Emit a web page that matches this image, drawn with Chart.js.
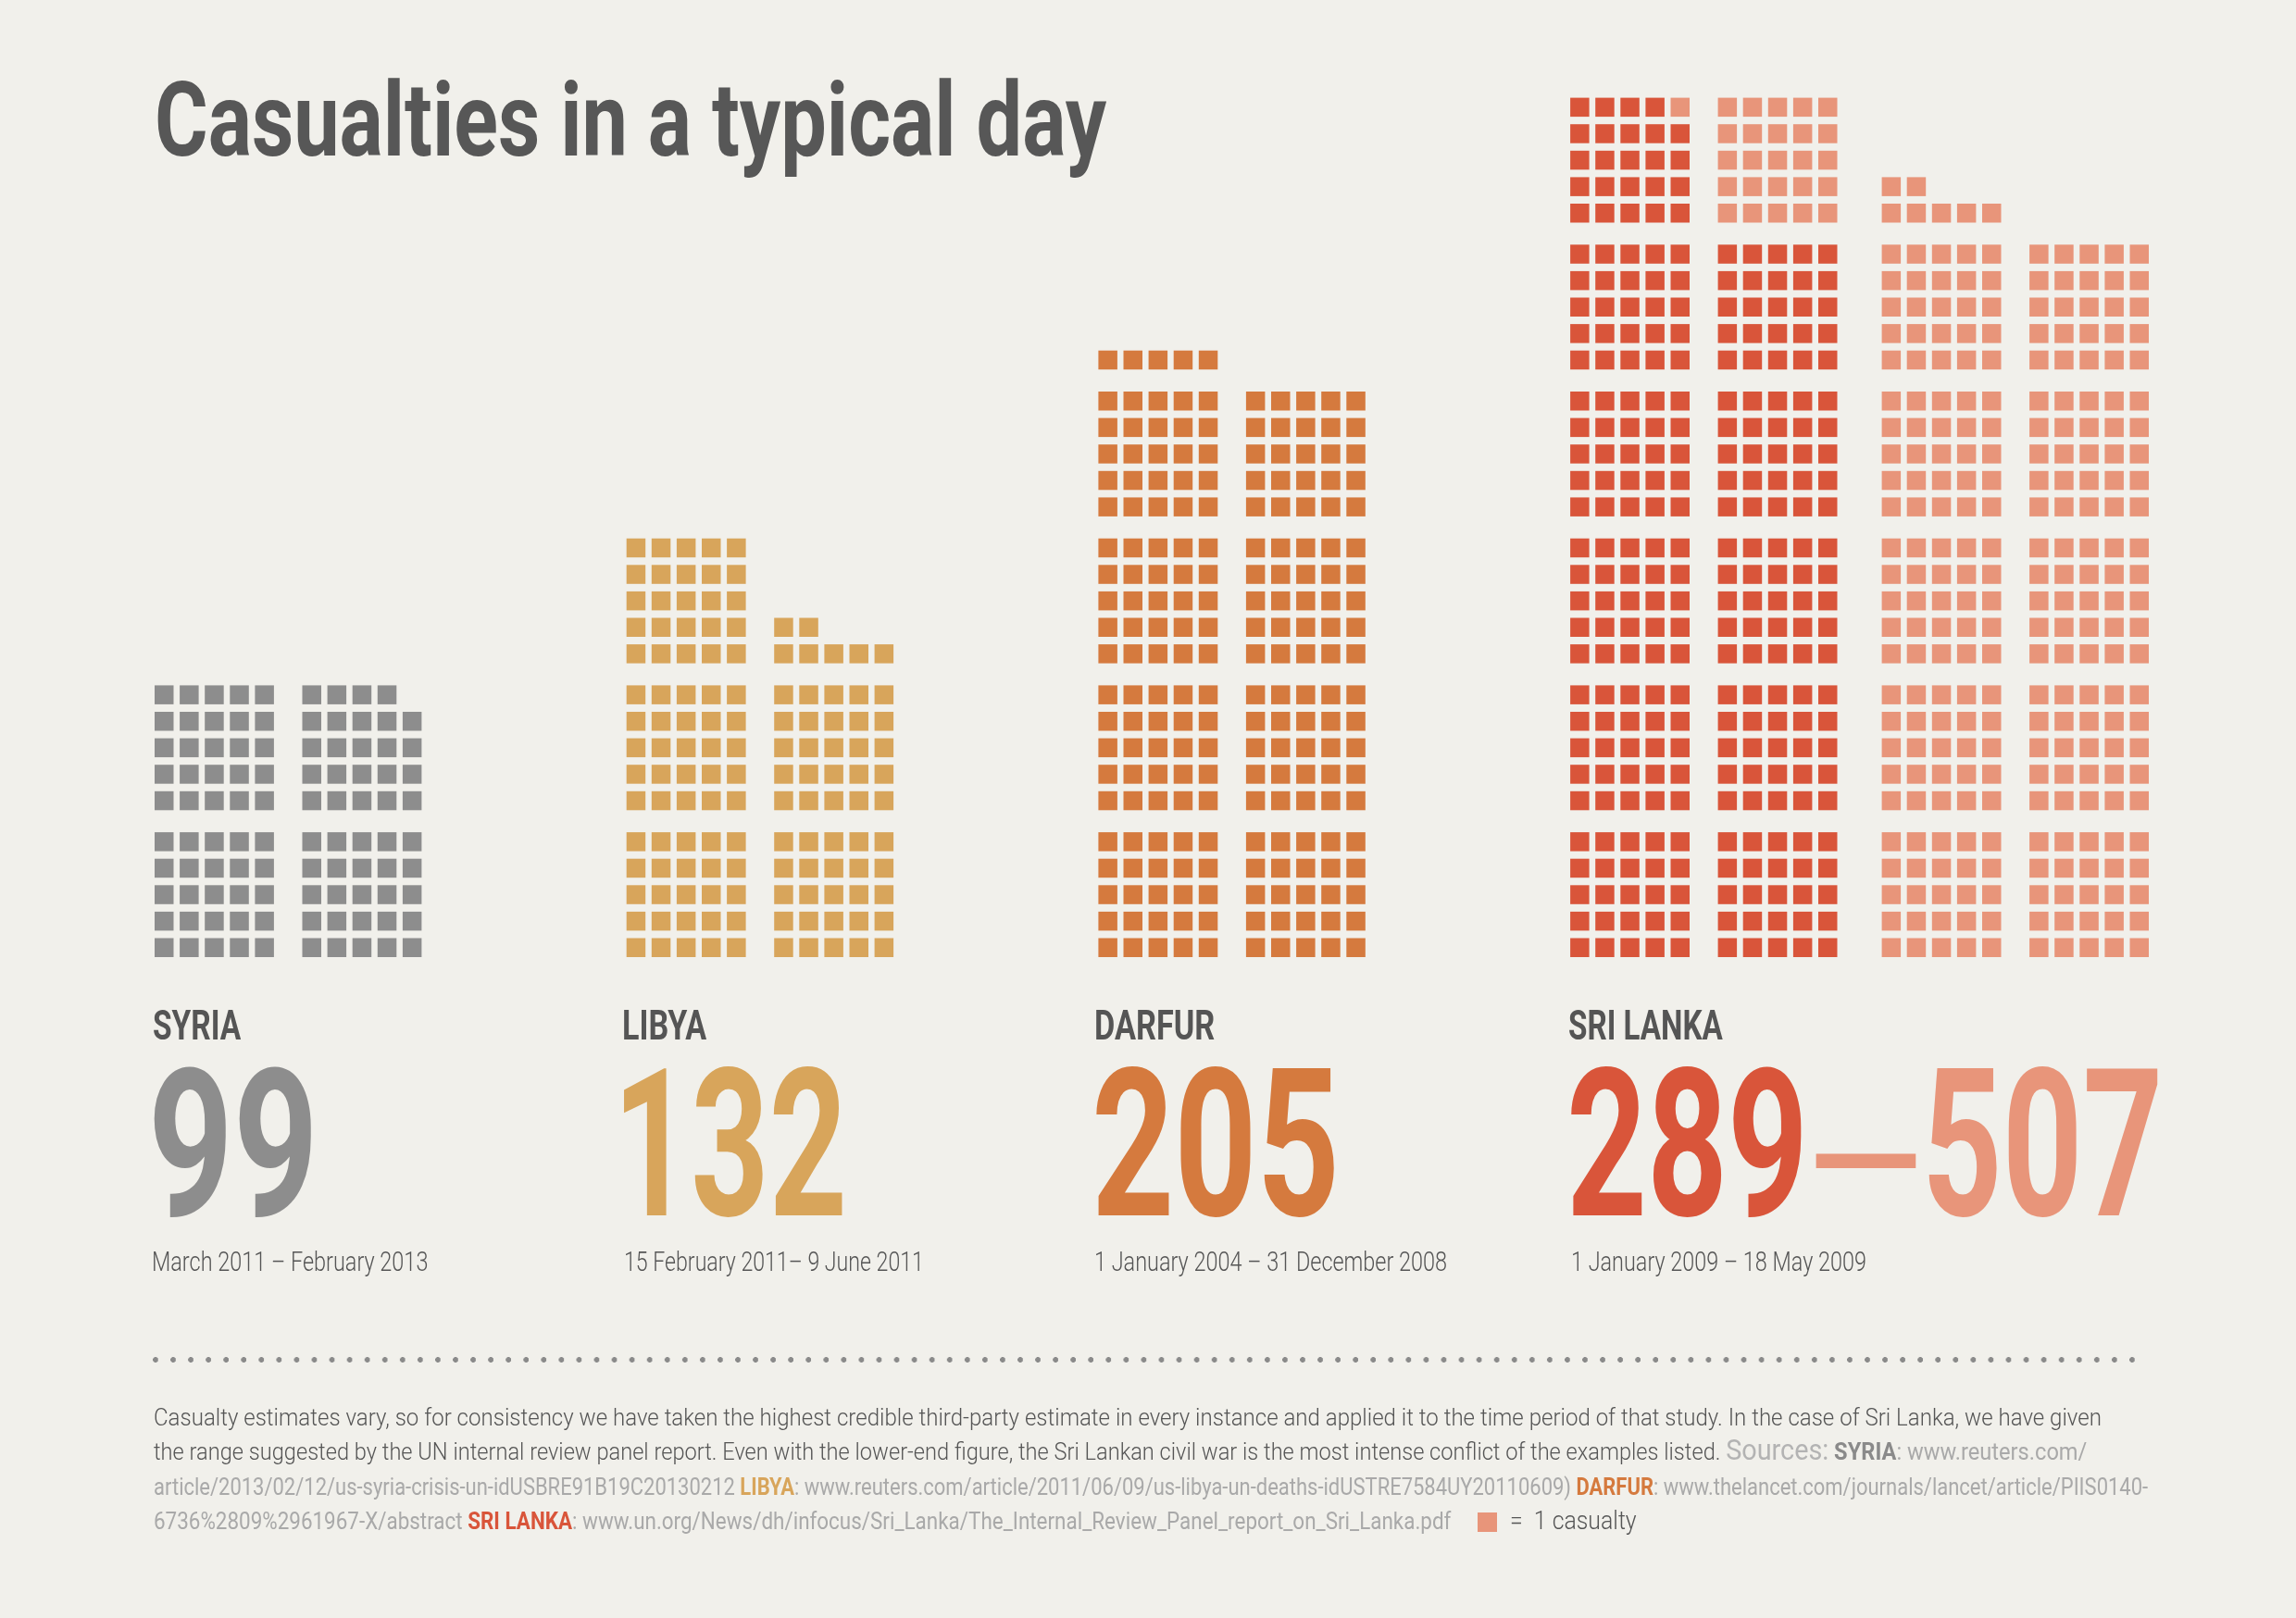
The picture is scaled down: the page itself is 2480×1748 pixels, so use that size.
<!DOCTYPE html>
<html>
<head>
<meta charset="utf-8">
<script src="https://cdn.jsdelivr.net/npm/chart.js@4.4.1/dist/chart.umd.min.js"></script>
<style>
html,body{margin:0;padding:0;background:#f1f0eb;}
body{width:2480px;height:1748px;position:relative;overflow:hidden;}
#c{position:absolute;left:0;top:0;width:2480px;height:1748px;}
.t{position:absolute;white-space:nowrap;transform-origin:0 0;line-height:1.2;}
.dots{position:absolute;left:164.5px;top:1466px;width:2142px;height:6px;
  background-image:radial-gradient(circle at 3px 3px,#8a8a8a 2.6px,rgba(138,138,138,0) 3.2px);
  background-size:19.07px 6px;background-repeat:repeat-x;}
.url{color:#a9a9a9;font-weight:400;}
.src{color:#b3b3b3;font-size:1.22em;font-weight:400;}
.cap{font-weight:700;}
</style>
</head>
<body>
<canvas id="c" width="2480" height="1748"></canvas>
<div class="dots"></div>
<script>
// ================= DATA =================
const countries = ["SYRIA", "LIBYA", "DARFUR", "SRI LANKA"];
const periods = [
  "March 2011 \u2013 February 2013",
  "15 February 2011\u2013 9 June 2011",
  "1 January 2004 \u2013 31 December 2008",
  "1 January 2009 \u2013 18 May 2009"
];
const lowEstimates = [99, 132, 205, 289];
const highEstimates = [null, null, null, 507];

// Block-columns of squares (1 square = 1 casualty), as drawn in the picture
const columnCountry = [0, 0, 1, 1, 2, 2, 3, 3, 3, 3];
const columnSlot    = [0, 1, 0, 1, 0, 1, 0, 1, 2, 3];
const baseSquares   = [50, 49, 75, 57, 105, 100, 149, 125, 0, 0];
const extraSquares  = [0, 0, 0, 0, 0, 0, 1, 25, 132, 125];

// ================= STYLE / LAYOUT =================
const countryColors = ["#8d8d8d", "#d8a55b", "#d57a3e", "#d9553a"];
const extraColor = "#e8957a";

const W = 2480, H = 1748;
const PX_PER_COL = 27.1, PX_PER_ROW = 28.6;
const ORIGIN_X = 177.25, ORIGIN_Y = 1023.75;
const COUNTRY_STEP = 509.7 / PX_PER_COL;
const SLOT_STEP = 159.5 / PX_PER_COL;
const RANGE_SPLIT = 17.5 / PX_PER_COL;
const ROWS_PER_BLOCK = 5, COLS_PER_BLOCK = 5;
const BLOCK_GAP = 15.7 / PX_PER_ROW;
const SQUARE_PX = 20.5;

// ================= DATASETS =================
const baseSets = countries.map((c, k) => ({label: c, data: [], backgroundColor: countryColors[k]}));
const extraSets = countries.map((c, k) => ({label: c + " upper", data: [], backgroundColor: extraColor}));
columnCountry.forEach((k, ci) => {
  const slot = columnSlot[ci];
  const x0 = k * COUNTRY_STEP + slot * SLOT_STEP + (slot >= 2 ? RANGE_SPLIT : 0);
  const total = baseSquares[ci] + extraSquares[ci];
  for (let i = 0; i < total; i++) {
    const row = Math.floor(i / COLS_PER_BLOCK);
    const col = i % COLS_PER_BLOCK;
    const pt = {x: x0 + col, y: row + Math.floor(row / ROWS_PER_BLOCK) * BLOCK_GAP};
    (i < baseSquares[ci] ? baseSets[k] : extraSets[k]).data.push(pt);
  }
});
const datasets = baseSets.concat(extraSets).filter(d => d.data.length).map(d => Object.assign(d, {
  pointStyle: 'rect', pointRadius: SQUARE_PX / Math.SQRT2, borderWidth: 0,
  pointHoverRadius: SQUARE_PX / Math.SQRT2
}));

new Chart(document.getElementById('c'), {
  type: 'scatter',
  data: {datasets},
  options: {
    responsive: false, animation: false, events: [],
    layout: {padding: 0, autoPadding: false},
    plugins: {legend: {display: false}, tooltip: {enabled: false}, title: {display: false}},
    scales: {
      x: {type: 'linear', display: false, min: -ORIGIN_X / PX_PER_COL, max: (W - ORIGIN_X) / PX_PER_COL},
      y: {type: 'linear', display: false, min: -(H - ORIGIN_Y) / PX_PER_ROW, max: ORIGIN_Y / PX_PER_ROW}
    }
  }
});

// ================= TEXT =================
const FONT = 'Roboto, "Liberation Sans", "DejaVu Sans", sans-serif';
const mctx = document.createElement('canvas').getContext('2d');

function placeText(html, o) {
  const d = document.createElement('div');
  d.className = 't';
  d.innerHTML = html + '<span style="display:inline-block;width:0;height:0;"></span>';
  d.style.left = (o.left || 0) + 'px';
  d.style.top = '0px';
  d.style.fontFamily = o.font;
  d.style.fontSize = o.size + 'px';
  d.style.fontWeight = o.weight || 400;
  d.style.color = o.color;
  document.body.appendChild(d);
  const base = d.lastChild.offsetTop;
  d.style.top = (o.baseline - base) + 'px';
  d._base = base;
  if (o.width) {
    const w = d.offsetWidth;
    d.style.transform = 'scaleX(' + (o.width / w) + ')';
  }
  return d;
}

// fit a single-style text so its ink spans x0..x1 and its cap height spans capTop..baseline
function fitText(text, o) {
  const w = o.weight || 400;
  mctx.font = w + ' 100px ' + o.font;
  const capH = mctx.measureText('H').actualBoundingBoxAscent;
  const size = (o.baseline - o.capTop) / capH * 100;
  mctx.font = w + ' ' + size + 'px ' + o.font;
  const m = mctx.measureText(text);
  const inkL = -m.actualBoundingBoxLeft, inkR = m.actualBoundingBoxRight;
  const s = (o.x1 - o.x0) / (inkR - inkL);
  const d = placeText(text, {baseline: o.baseline, font: o.font, weight: w, size: size, color: o.color});
  d.style.left = (o.x0 - inkL * s) + 'px';
  d.style.transform = 'scaleX(' + s + ')';
  return d;
}

// dash: fit ink box exactly
function fitDash(text, o) {
  const w = o.weight || 400;
  mctx.font = w + ' ' + o.size + 'px ' + o.font;
  const m = mctx.measureText(text);
  const inkL = -m.actualBoundingBoxLeft, inkR = m.actualBoundingBoxRight;
  const a = m.actualBoundingBoxAscent, b = -m.actualBoundingBoxDescent;
  const sx = (o.x1 - o.x0) / (inkR - inkL);
  const sy = (o.y1 - o.y0) / (a - b);
  const baseline = o.y1 + b * sy;
  const d = placeText(text, {baseline: baseline, font: o.font, weight: w, size: o.size, color: o.color});
  d.style.left = (o.x0 - inkL * sx) + 'px';
  d.style.transformOrigin = '0 ' + d._base + 'px';
  d.style.transform = 'scale(' + sx + ',' + sy + ')';
  return d;
}

fitText("Casualties in a typical day", {x0: 170, x1: 1195, capTop: 88, baseline: 168, font: FONT, weight: 700, color: "#575757"});

const labelX = [[166, 261], [674, 764], [1184, 1312], [1695, 1861.5]];
const numX = [[166, 335.5], [674, 910], [1184, 1441], [1697, 1946]];
const dateX = [[166, 461.5], [676, 994], [1184, 1563], [1699, 2015]];

countries.forEach((c, k) => {
  fitText(c, {x0: labelX[k][0], x1: labelX[k][1], capTop: 1090.7, baseline: 1123.3, font: FONT, weight: 700, color: "#555555"});
  fitText(String(lowEstimates[k]), {x0: numX[k][0], x1: numX[k][1], capTop: 1152, baseline: 1312.5, font: FONT, weight: 700, color: countryColors[k]});
  if (highEstimates[k] != null) {
    fitDash("\u2013", {x0: 1961, x1: 2070, y0: 1246, y1: 1262, size: 226, font: FONT, weight: 700, color: extraColor});
    fitText(String(highEstimates[k]), {x0: 2083, x1: 2330, capTop: 1152, baseline: 1312.5, font: FONT, weight: 700, color: extraColor});
  }
  fitText(periods[k], {x0: dateX[k][0], x1: dateX[k][1], capTop: 1351.6, baseline: 1373, font: FONT, weight: 300, color: "#555555"});
});

mctx.font = '400 100px ' + FONT;
const fnSize = 18.3 / mctx.measureText('H').actualBoundingBoxAscent * 100;
const FN = {font: FONT, weight: 300, size: fnSize, color: "#555555"};
placeText("Casualty estimates vary, so for consistency we have taken the highest credible third-party estimate in every instance and applied it to the time period of that study. In the case of Sri Lanka, we have given",
  Object.assign({left: 166, baseline: 1540, width: 2104}, FN));
placeText('the range suggested by the UN internal review panel report. Even with the lower-end figure, the Sri Lankan civil war is the most intense conflict of the examples listed. <span class="src">Sources:</span> <span class="cap" style="color:#8a8a8a">SYRIA</span><span class="url">: www.reuters.com/</span>',
  Object.assign({left: 166, baseline: 1577, width: 2088}, FN));
placeText('<span class="url">article/2013/02/12/us-syria-crisis-un-idUSBRE91B19C20130212 </span><span class="cap" style="color:#d8a55b">LIBYA</span><span class="url">: www.reuters.com/article/2011/06/09/us-libya-un-deaths-idUSTRE7584UY20110609) </span><span class="cap" style="color:#d57a3e">DARFUR</span><span class="url">: www.thelancet.com/journals/lancet/article/PIIS0140-</span>',
  Object.assign({left: 166, baseline: 1615, width: 2154}, FN));
placeText('<span class="url">6736%2809%2961967-X/abstract </span><span class="cap" style="color:#d9553a">SRI LANKA</span><span class="url">: www.un.org/News/dh/infocus/Sri_Lanka/The_Internal_Review_Panel_report_on_Sri_Lanka.pdf</span>',
  Object.assign({left: 166, baseline: 1652, width: 1401}, FN));
const sw = document.createElement('div');
Object.assign(sw.style, {position: 'absolute', left: '1596px', top: '1634px', width: '21px', height: '21px', background: extraColor});
document.body.appendChild(sw);
placeText("=&nbsp;&nbsp;1 casualty", Object.assign({}, FN, {left: 1631, baseline: 1652, width: 137, size: fnSize * 1.12}));
</script>
</body>
</html>
